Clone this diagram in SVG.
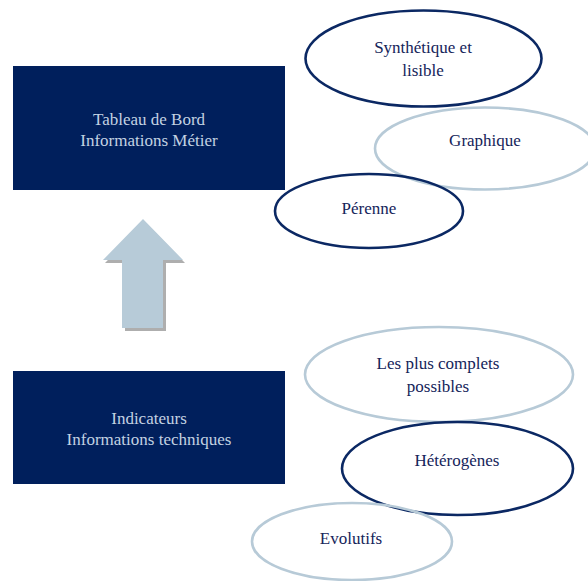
<svg xmlns="http://www.w3.org/2000/svg" width="588" height="581" viewBox="0 0 588 581">
<style>
.box{fill:#001f5c}
.bt{font-size:17px;fill:#c3d2e2;text-anchor:middle}
.et{font-size:17px;fill:#14245a;text-anchor:middle}
.dark{fill:none;stroke:#0b2863;stroke-width:2.6}
.light{fill:none;stroke:#b7cad7;stroke-width:2.6}
</style>
<rect width="588" height="581" fill="#ffffff"/>
<g font-family="Liberation Serif, Times New Roman, Times, serif">
<g id="tableau">
<rect class="box" x="13" y="66" width="272" height="124"/>
<text class="bt" x="149" y="125">Tableau de Bord</text>
<text class="bt" x="149" y="146">Informations Métier</text>
</g>
<g id="indicateurs">
<rect class="box" x="13" y="371" width="272" height="113"/>
<text class="bt" x="149" y="424">Indicateurs</text>
<text class="bt" x="149" y="445">Informations techniques</text>
</g>
<g id="connectors">
<polygon points="145,222 185,263 166,263 166,331 125,331 125,263 105,263" fill="#9a9a9a" opacity="0.8"/>
<polygon points="143,219 183,260 163,260 163,328 122,328 122,260 103,260" fill="#b7cbd8"/>
</g>
<g id="synthetique">
<ellipse class="dark" cx="423.5" cy="58.5" rx="118" ry="48"/>
<text class="et" x="423" y="53">Synthétique et</text>
<text class="et" x="423" y="76">lisible</text>
</g>
<g id="graphique">
<ellipse class="light" cx="485" cy="148.5" rx="110" ry="41"/>
<text class="et" x="485" y="146">Graphique</text>
</g>
<g id="perenne">
<ellipse class="dark" cx="369" cy="211" rx="94" ry="37"/>
<text class="et" x="369" y="214">Pérenne</text>
</g>
<g id="complets">
<ellipse class="light" cx="439" cy="374.5" rx="134" ry="47.5"/>
<text class="et" x="438" y="369">Les plus complets</text>
<text class="et" x="438" y="392">possibles</text>
</g>
<g id="heterogenes">
<ellipse class="dark" cx="457.5" cy="468.5" rx="115.5" ry="46.5"/>
<text class="et" x="457" y="466">Hétérogènes</text>
</g>
<g id="evolutifs">
<ellipse class="light" cx="352" cy="541.5" rx="100" ry="38.5"/>
<text class="et" x="351" y="544">Evolutifs</text>
</g>
</g>
</svg>
